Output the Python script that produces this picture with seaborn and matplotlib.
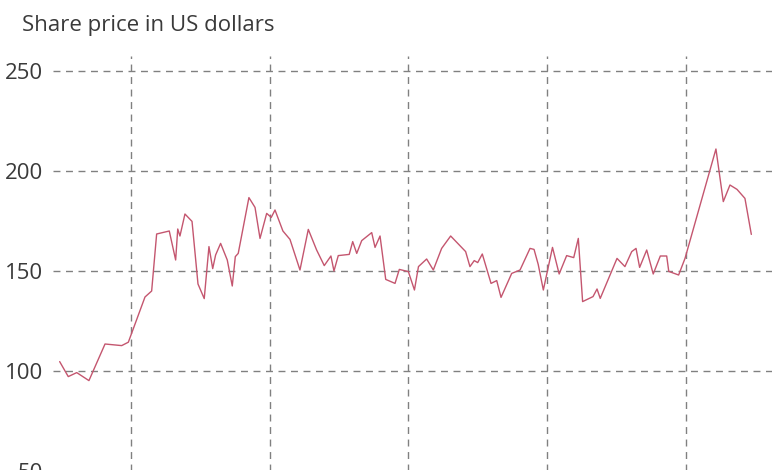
import numpy as np
import pandas as pd
import matplotlib
matplotlib.use("Agg")
import matplotlib.pyplot as plt
import seaborn as sns

# share price (decimal years)
years = [2018.486, 2018.548, 2018.609, 2018.697, 2018.813, 2018.933, 2018.981,
         2019.101, 2019.149, 2019.185, 2019.276, 2019.322, 2019.337, 2019.353,
         2019.389, 2019.440, 2019.483, 2019.528, 2019.562, 2019.589, 2019.610,
         2019.646, 2019.694, 2019.730, 2019.752, 2019.773, 2019.850, 2019.894,
         2019.930, 2019.978, 2020.011, 2020.038, 2020.095, 2020.146, 2020.218,
         2020.278, 2020.338, 2020.393, 2020.441, 2020.463, 2020.494, 2020.573,
         2020.598, 2020.627, 2020.663, 2020.735, 2020.759, 2020.795, 2020.836,
         2020.903, 2020.934, 2020.999, 2021.043, 2021.072, 2021.131, 2021.179,
         2021.239, 2021.304, 2021.412, 2021.443, 2021.474, 2021.499, 2021.532,
         2021.595, 2021.636, 2021.667, 2021.744, 2021.804, 2021.876, 2021.905,
         2021.935, 2021.972, 2022.038, 2022.086, 2022.140, 2022.191, 2022.224,
         2022.255, 2022.330, 2022.359, 2022.382, 2022.503, 2022.560, 2022.609,
         2022.640, 2022.666, 2022.717, 2022.764, 2022.815, 2022.861, 2022.876,
         2022.947, 2022.993, 2023.216, 2023.269, 2023.317, 2023.368, 2023.425,
         2023.471]
price = [104.7, 97.2, 99.2, 95.2, 113.5, 112.7, 114.4,
         137.0, 140.0, 168.5, 170.0, 155.5, 171.0, 167.5,
         178.5, 174.8, 143.5, 136.2, 162.2, 151.2, 158.0,
         163.8, 155.5, 142.5, 157.2, 158.8, 186.7, 181.8,
         166.3, 178.8, 176.8, 180.5, 170.0, 165.8, 150.5,
         170.8, 160.5, 152.7, 157.5, 150.0, 157.7, 158.3,
         164.7, 158.8, 165.2, 169.2, 161.8, 167.5, 145.8,
         143.8, 150.8, 149.7, 140.5, 152.2, 156.0, 150.5,
         161.3, 167.5, 159.7, 152.2, 155.2, 154.2, 158.5,
         143.8, 145.2, 136.8, 148.8, 150.5, 161.3, 160.8,
         153.3, 140.5, 161.8, 148.5, 157.7, 156.7, 166.3,
         134.7, 137.2, 141.0, 136.3, 156.3, 152.2, 159.7,
         161.3, 151.8, 160.5, 148.5, 157.5, 157.5, 149.8,
         148.0, 156.3, 211.0, 184.7, 193.0, 190.8, 186.3,
         168.3]

year_ticks = [2019, 2020, 2021, 2022, 2023]
price_ticks = [50, 100, 150, 200, 250]

df = pd.DataFrame({"year": years, "price": price})

sns.set_theme(style="white")
plt.rcParams["font.family"] = ["Open Sans", "DejaVu Sans"]

fig = plt.figure(figsize=(7.8, 4.7), dpi=100)
# axes runs a little past the bottom edge, as in the cropped original
ax = fig.add_axes([53 / 780, -5 / 470, 719 / 780, 419 / 470])

sns.lineplot(data=df, x="year", y="price", ax=ax, color="#c4566f",
             linewidth=1.0, zorder=3)

ax.set_xlim(2018.438, 2023.62)
ax.set_ylim(48, 257.5)
ax.set_xticks(year_ticks)
ax.set_xticklabels([])
ax.set_yticks(price_ticks)
ax.set_yticklabels([str(v) for v in price_ticks], fontsize=16,
                   color="#3a3a3a")
ax.tick_params(axis="y", length=0, pad=7)
ax.tick_params(axis="x", length=0)
ax.set_xlabel("")
ax.set_ylabel("")
for s in ax.spines.values():
    s.set_visible(False)

ax.grid(True, axis="both", color="#808080", linestyle=(0, (5, 4)),
        linewidth=1.0)
ax.set_axisbelow(True)

fig.text(22 / 780, 1 - 25 / 470, "Share price in US dollars", fontsize=16,
         color="#3a3a3a", va="center", ha="left")

fig.savefig("out.png", dpi=100)
